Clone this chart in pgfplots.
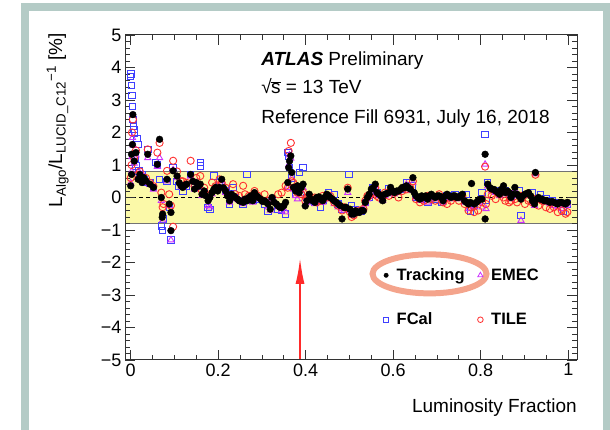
\documentclass[border=0pt]{standalone}
\usepackage{pgfplots}
\pgfplotsset{compat=1.18}
\usepackage{pgfplotstable}
\usepackage{fontspec}
\setmainfont{Liberation Sans}
\usetikzlibrary{arrows.meta,shapes.geometric}
\definecolor{framegreen}{HTML}{B4CBC6}
\definecolor{bandyellow}{HTML}{FBF9A8}
\definecolor{fcalblue}{HTML}{4040FF}
\definecolor{emecmag}{HTML}{CC33FF}
\definecolor{tilered}{HTML}{FF3030}
\definecolor{salmonring}{HTML}{F4A48C}
\definecolor{arrowred}{HTML}{FF2A2A}

\pgfplotstableread{
x y
0.000 0.36
0.002 0.71
0.002 1.33
0.004 1.63
0.005 2.55
0.008 1.12
0.012 1.38
0.017 0.56
0.021 0.71
0.026 0.46
0.030 0.61
0.035 0.51
0.039 1.33
0.044 0.41
0.052 0.31
0.061 1.02
0.066 1.79
0.070 0.00
0.073 -0.51
0.072 -0.61
0.083 0.56
0.088 -0.20
0.092 -0.46
0.092 -1.02
0.097 0.82
0.106 0.66
0.111 0.45
0.115 0.36
0.119 0.31
0.124 0.38
0.128 0.41
0.137 0.71
0.142 0.50
0.146 0.26
0.150 0.46
0.155 0.35
0.159 0.41
0.163 0.10
0.168 0.20
0.172 0.05
0.177 -0.10
0.181 0.00
0.186 0.15
0.190 0.25
0.194 0.31
0.199 0.20
0.203 0.31
0.208 0.56
0.212 0.30
0.217 0.20
0.221 0.05
0.226 -0.10
0.230 0.10
0.235 0.05
0.239 0.00
0.244 -0.05
0.248 -0.10
0.252 -0.12
0.257 -0.15
0.261 -0.05
0.266 -0.10
0.270 0.00
0.275 0.05
0.279 -0.10
0.283 0.15
0.288 0.05
0.292 0.00
0.297 -0.05
0.301 -0.12
0.306 -0.10
0.310 -0.15
0.314 -0.20
0.319 -0.36
0.323 0.00
0.328 -0.15
0.333 -0.20
0.337 -0.26
0.341 -0.30
0.345 -0.31
0.350 -0.25
0.354 -0.15
0.359 0.46
0.361 0.92
0.363 1.12
0.366 1.28
0.368 0.77
0.372 0.31
0.377 0.20
0.381 0.36
0.385 0.15
0.390 0.31
0.394 0.41
0.399 -0.26
0.403 -0.10
0.408 0.10
0.412 -0.05
0.416 -0.10
0.421 -0.15
0.425 0.00
0.430 0.02
0.434 -0.05
0.439 -0.10
0.443 0.00
0.448 0.10
0.452 0.05
0.456 0.00
0.461 -0.05
0.465 -0.10
0.470 -0.15
0.474 -0.20
0.479 -0.25
0.483 -0.66
0.488 -0.31
0.492 -0.30
0.496 0.26
0.501 -0.36
0.505 -0.51
0.510 -0.51
0.514 -0.41
0.519 -0.45
0.523 -0.46
0.528 -0.40
0.532 -0.41
0.536 -0.15
0.541 0.00
0.545 0.10
0.550 0.26
0.554 0.30
0.559 0.41
0.563 0.15
0.567 0.10
0.572 0.05
0.576 -0.10
0.581 0.10
0.585 0.12
0.590 0.15
0.594 0.31
0.599 0.20
0.603 0.15
0.608 0.20
0.612 0.20
0.617 0.25
0.621 0.31
0.626 0.30
0.630 0.36
0.635 0.30
0.639 0.26
0.645 0.61
0.648 0.15
0.652 0.05
0.656 0.00
0.661 -0.05
0.665 0.05
0.670 0.00
0.674 0.05
0.679 -0.05
0.683 0.05
0.687 0.10
0.692 0.05
0.696 0.00
0.701 0.05
0.705 0.05
0.710 0.00
0.714 -0.10
0.719 0.05
0.723 0.10
0.728 0.05
0.732 0.00
0.737 0.05
0.741 0.05
0.745 0.00
0.750 0.00
0.754 0.05
0.758 0.10
0.763 -0.10
0.767 -0.15
0.772 -0.20
0.776 -0.15
0.779 0.43
0.785 -0.20
0.790 -0.15
0.794 -0.10
0.798 -0.05
0.803 -0.05
0.810 -0.66
0.810 1.33
0.816 0.41
0.821 0.30
0.825 0.26
0.830 0.25
0.834 0.20
0.839 0.15
0.843 0.10
0.847 0.25
0.852 0.36
0.856 0.15
0.861 0.20
0.865 0.15
0.869 0.00
0.874 0.10
0.878 0.31
0.883 0.10
0.887 0.05
0.892 -0.05
0.896 0.05
0.901 0.10
0.905 0.12
0.909 0.15
0.914 0.05
0.918 -0.10
0.923 -0.20
0.925 0.77
0.928 -0.05
0.932 0.00
0.936 -0.05
0.940 -0.05
0.945 -0.10
0.949 -0.10
0.954 -0.12
0.958 -0.15
0.963 -0.12
0.967 -0.15
0.972 -0.18
0.976 -0.20
0.981 -0.15
0.985 -0.15
0.990 -0.18
0.994 -0.20
0.998 -0.15
}\tracking

\pgfplotstableread{
x y
0.000 0.45
0.002 0.80
0.003 1.25
0.004 1.84
0.006 1.60
0.008 1.05
0.012 1.30
0.017 0.60
0.021 0.75
0.026 0.55
0.030 0.65
0.035 0.45
0.039 1.22
0.044 0.40
0.052 0.25
0.061 0.95
0.066 1.22
0.070 -0.10
0.073 -0.70
0.083 0.50
0.088 -0.25
0.092 -1.31
0.097 0.85
0.106 0.60
0.115 0.35
0.119 0.30
0.128 0.40
0.137 0.65
0.146 0.25
0.150 0.45
0.159 0.35
0.163 0.05
0.168 0.15
0.177 -0.25
0.181 -0.30
0.186 0.10
0.194 0.25
0.203 0.30
0.208 0.50
0.217 0.15
0.226 -0.15
0.230 0.05
0.239 -0.05
0.248 -0.10
0.257 -0.20
0.261 -0.10
0.270 -0.05
0.279 -0.15
0.283 0.10
0.292 -0.05
0.306 -0.15
0.314 -0.30
0.319 -0.40
0.323 -0.05
0.337 -0.30
0.345 -0.40
0.354 -0.45
0.359 0.30
0.361 1.00
0.363 1.30
0.366 1.20
0.368 0.60
0.372 0.25
0.377 0.05
0.381 -0.05
0.385 0.10
0.390 0.20
0.394 0.30
0.399 -0.20
0.403 -0.15
0.408 0.00
0.412 -0.10
0.421 -0.20
0.425 -0.05
0.434 -0.15
0.439 -0.15
0.448 0.05
0.456 -0.05
0.465 -0.20
0.474 -0.30
0.483 -0.35
0.488 -0.40
0.496 0.15
0.501 -0.40
0.505 -0.55
0.510 -0.50
0.514 -0.40
0.523 -0.45
0.532 -0.35
0.536 -0.20
0.541 -0.05
0.545 0.05
0.550 0.20
0.559 0.35
0.563 0.10
0.567 0.05
0.576 -0.10
0.581 0.05
0.590 0.10
0.594 0.25
0.603 0.10
0.612 0.15
0.621 0.25
0.630 0.40
0.639 0.20
0.645 0.45
0.652 0.00
0.661 -0.10
0.670 -0.05
0.679 -0.15
0.687 0.05
0.696 -0.05
0.705 0.00
0.714 -0.15
0.723 0.05
0.732 -0.05
0.741 0.00
0.750 -0.05
0.758 0.05
0.763 -0.15
0.772 -0.35
0.779 -0.25
0.785 -0.30
0.794 -0.15
0.803 -0.30
0.810 1.02
0.812 -0.35
0.816 0.35
0.825 0.20
0.834 0.15
0.843 0.05
0.852 0.30
0.856 0.10
0.865 0.10
0.869 -0.05
0.878 0.25
0.883 0.05
0.892 -0.71
0.901 0.05
0.909 0.10
0.918 -0.15
0.923 -0.25
0.925 0.72
0.932 -0.05
0.940 -0.10
0.949 -0.15
0.958 -0.20
0.967 -0.25
0.976 -0.30
0.985 -0.35
0.994 -0.25
0.998 -0.20
}\emec

\pgfplotstableread{
x y
0.000 0.60
0.002 1.00
0.003 2.00
0.005 2.40
0.008 1.20
0.012 1.45
0.017 0.70
0.021 0.80
0.026 0.60
0.030 0.55
0.035 0.60
0.039 1.48
0.044 0.45
0.052 0.35
0.061 1.38
0.066 1.68
0.070 0.15
0.073 -0.30
0.075 -0.20
0.083 0.82
0.088 0.10
0.092 -0.25
0.097 1.13
0.097 -0.90
0.106 0.80
0.115 0.50
0.119 0.50
0.128 0.45
0.137 1.13
0.146 0.35
0.150 0.60
0.159 0.66
0.163 0.20
0.168 0.30
0.177 0.05
0.181 0.10
0.186 0.46
0.194 0.35
0.203 0.56
0.208 0.45
0.217 0.30
0.226 0.05
0.234 0.41
0.239 0.10
0.248 0.05
0.257 0.36
0.261 0.10
0.270 0.05
0.279 0.00
0.283 0.20
0.292 0.05
0.306 0.10
0.314 -0.10
0.323 -0.10
0.337 0.10
0.345 0.15
0.354 0.36
0.359 0.30
0.361 1.43
0.366 1.68
0.368 0.50
0.372 0.45
0.377 0.30
0.381 0.15
0.385 0.25
0.390 0.10
0.394 0.15
0.399 -0.10
0.403 0.00
0.408 0.05
0.412 -0.05
0.421 0.00
0.425 -0.15
0.434 -0.10
0.439 0.05
0.448 0.00
0.456 0.05
0.465 -0.15
0.474 -0.25
0.483 -0.40
0.488 -0.30
0.496 0.30
0.501 -0.45
0.505 -0.60
0.510 -0.55
0.514 -0.45
0.523 -0.40
0.532 -0.35
0.536 -0.10
0.541 0.05
0.545 0.05
0.550 0.15
0.559 0.30
0.563 0.05
0.567 0.00
0.576 0.05
0.581 0.15
0.590 0.05
0.594 0.20
0.603 0.15
0.612 0.00
0.621 0.20
0.630 0.25
0.639 0.30
0.645 0.50
0.652 -0.05
0.661 -0.15
0.670 -0.10
0.679 0.05
0.687 -0.05
0.696 -0.10
0.705 0.10
0.714 -0.15
0.723 -0.20
0.732 -0.10
0.741 0.00
0.750 -0.10
0.758 0.05
0.763 -0.20
0.772 -0.40
0.779 -0.30
0.785 -0.45
0.794 -0.40
0.803 -0.15
0.810 0.95
0.812 -0.20
0.816 0.10
0.825 0.05
0.834 -0.05
0.843 0.10
0.852 0.00
0.856 -0.10
0.865 -0.15
0.869 -0.10
0.878 -0.05
0.883 -0.15
0.892 0.05
0.901 -0.20
0.909 -0.10
0.918 -0.15
0.923 -0.05
0.925 0.70
0.932 -0.25
0.940 -0.10
0.949 -0.30
0.958 -0.35
0.967 -0.30
0.976 -0.45
0.985 -0.40
0.994 -0.50
0.998 -0.45
}\tile

\pgfplotstableread{
x y
0.000 3.72
0.001 3.80
0.002 3.44
0.003 3.14
0.004 2.81
0.005 2.40
0.006 2.19
0.007 2.09
0.008 1.99
0.010 1.22
0.012 0.97
0.014 1.82
0.017 1.63
0.019 0.82
0.021 0.61
0.026 0.70
0.030 0.55
0.035 0.46
0.039 1.48
0.044 0.45
0.052 0.30
0.057 1.07
0.061 1.02
0.066 0.55
0.070 -0.87
0.073 -1.02
0.075 -0.66
0.083 0.50
0.088 -0.30
0.092 -1.31
0.097 0.92
0.106 0.50
0.110 0.36
0.119 0.20
0.128 0.35
0.137 0.71
0.146 0.30
0.155 0.36
0.159 1.07
0.160 0.97
0.168 0.15
0.177 -0.30
0.181 -0.36
0.190 0.66
0.203 0.46
0.208 0.40
0.217 0.20
0.226 -0.20
0.234 0.31
0.239 0.00
0.252 -0.10
0.257 -0.20
0.266 0.71
0.270 -0.05
0.279 -0.10
0.288 0.00
0.292 -0.05
0.306 -0.20
0.314 -0.41
0.323 -0.10
0.337 -0.35
0.345 -0.40
0.354 -0.51
0.359 1.38
0.361 1.28
0.363 0.92
0.368 0.60
0.372 0.30
0.377 0.10
0.385 0.77
0.394 0.92
0.403 0.00
0.412 -0.10
0.421 -0.15
0.434 -0.31
0.439 -0.10
0.452 0.15
0.465 0.10
0.474 -0.20
0.483 -0.35
0.499 0.71
0.505 -0.26
0.514 -0.36
0.528 -0.41
0.536 -0.15
0.545 0.00
0.554 0.31
0.563 0.15
0.576 -0.05
0.590 0.26
0.603 0.15
0.621 0.25
0.630 0.46
0.643 0.36
0.652 0.00
0.661 -0.05
0.679 -0.15
0.696 -0.05
0.710 -0.15
0.723 0.05
0.741 0.10
0.758 0.05
0.767 0.10
0.776 -0.41
0.785 -0.25
0.803 0.15
0.810 1.94
0.812 -0.10
0.816 0.46
0.834 0.20
0.856 0.20
0.869 0.05
0.887 0.20
0.892 -0.56
0.909 0.10
0.918 0.15
0.936 0.10
0.949 -0.05
0.963 -0.10
0.976 -0.15
0.989 -0.41
0.998 -0.20
}\fcal

\begin{document}
\begin{tikzpicture}
\useasboundingbox (0pt,0pt) rectangle (610pt,430pt);
\draw[framegreen, line width=8pt] (25pt,-4pt) rectangle (607pt,423pt);
\begin{axis}[
  at={(125pt,70pt)}, anchor=south west,
  width=452pt, height=325pt, scale only axis,
  xmin=-0.013, xmax=1.02, ymin=-5, ymax=5,
  axis on top,
  axis line style={line width=1pt, black!80},
  tick style={black!80, line width=0.8pt},
  major tick length=10pt, minor tick length=5pt,
  xtick={0,0.2,0.4,0.6,0.8,1},
  xticklabels={0,0.2,0.4,0.6,0.8,1},
  minor xtick={0.05,0.1,0.15,0.25,0.3,0.35,0.45,0.5,0.55,0.65,0.7,0.75,0.85,0.9,0.95},
  ytick={-5,-4,-3,-2,-1,0,1,2,3,4,5},
  yticklabels={−5,−4,−3,−2,−1,0,1,2,3,4,5},
  minor y tick num=4,
  tick label style={font=\fontsize{18}{20}\selectfont},
  /pgf/number format/assume math mode=true,
  xlabel={Luminosity Fraction},
  xlabel style={at={(axis description cs:1,0)}, anchor=base east, yshift=-53pt, inner sep=0pt, font=\fontsize{19}{22}\selectfont},
  ylabel={L\textsubscript{Algo}/L\textsubscript{LUCID\_C12}\textsuperscript{−1} [\%]},
  ylabel style={at={(axis description cs:-0.139,1.006)}, anchor=base east, inner sep=0pt, font=\fontsize{19}{22}\selectfont},
  legend cell align=left,
  legend style={draw=none, fill=none, at={(axis cs:0.5774,-3.077)}, anchor=west, inner sep=0pt,
    legend columns=2, row sep=27pt, font=\bfseries\fontsize{16.5}{19}\selectfont,
    /tikz/every even column/.append style={column sep=11pt},
    /tikz/every odd column/.append style={column sep=6pt}},
]
\addlegendimage{only marks, mark=*, mark size=2.2pt, black}
\addlegendentry{Tracking}
\addlegendimage{only marks, mark=triangle, mark size=3pt, emecmag, mark options={line width=0.8pt}}
\addlegendentry{EMEC}
\addlegendimage{only marks, mark=square, mark size=2.6pt, fcalblue, mark options={line width=0.8pt}}
\addlegendentry{FCal}
\addlegendimage{only marks, mark=o, mark size=2.8pt, tilered, mark options={line width=0.8pt}}
\addlegendentry{TILE}

\addplot[fill=bandyellow, draw=none, forget plot] coordinates {(-0.013,-0.8) (1.02,-0.8) (1.02,0.8) (-0.013,0.8)} -- cycle;
\addplot[black!55, line width=1.2pt, forget plot] coordinates {(-0.013,0.8) (1.02,0.8)};
\addplot[black!55, line width=1.2pt, forget plot] coordinates {(-0.013,-0.8) (1.02,-0.8)};
\addplot[black, line width=1.8pt, dash pattern=on 4pt off 3pt, forget plot] coordinates {(-0.013,0) (1.02,0)};

\addplot[only marks, mark=square, mark size=3.2pt, fcalblue, mark options={line width=0.9pt}, forget plot] table {\fcal};
\addplot[only marks, mark=triangle, mark size=3.6pt, emecmag, mark options={line width=0.9pt}, forget plot] table {\emec};
\addplot[only marks, mark=o, mark size=3.6pt, tilered, mark options={line width=0.9pt}, forget plot] table {\tile};
\addplot[only marks, mark=*, mark size=3.4pt, black, forget plot] table {\tracking};

\node[anchor=base west, inner sep=0pt, font=\fontsize{19}{22}\selectfont] at (axis cs:0.298,4.055) {\textbf{\textit{ATLAS}} Preliminary};
\node[anchor=base west, inner sep=0pt, font=\fontsize{19}{22}\selectfont] at (axis cs:0.298,3.206) {√\kern-0.5pt$\overline{\mbox{s}}$ = 13 TeV};
\node[anchor=base west, inner sep=0pt, font=\fontsize{19}{22}\selectfont] at (axis cs:0.298,2.283) {Reference Fill 6931, July 16, 2018};

\draw[arrowred, line width=1.8pt, -{Latex[length=26pt,width=9pt]}] (axis cs:0.387,-5) -- (axis cs:0.387,-1.86);
\node[ellipse, draw=salmonring, line width=6pt, inner sep=0pt, minimum width=114pt, minimum height=39pt] at (axis cs:0.683,-2.35) {};
\end{axis}
\end{tikzpicture}
\end{document}
